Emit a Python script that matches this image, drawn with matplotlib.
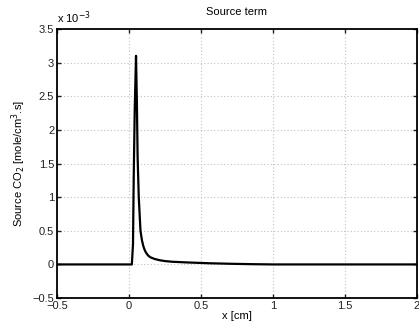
import numpy as np
import matplotlib
matplotlib.use("Agg")
import matplotlib.pyplot as plt

plt.rcParams['font.family'] = ['Liberation Sans', 'DejaVu Sans']

# source term (units of 1e-3 mole/cm^3.s)
x_cm = [-0.5, 0.0, 0.02, 0.028, 0.033, 0.04, 0.049, 0.055, 0.06, 0.068,
        0.08, 0.09, 0.1, 0.11, 0.12, 0.134, 0.15, 0.18, 0.215, 0.25,
        0.3, 0.4, 0.55, 0.7, 0.85, 1.0, 2.0]
source_e3 = [0.0, 0.0, 0.0, 0.3, 1.3, 2.3, 3.1, 2.4, 1.6, 1.0,
             0.5, 0.36, 0.27, 0.21, 0.17, 0.13, 0.105, 0.08, 0.062, 0.05,
             0.04, 0.03, 0.018, 0.01, 0.004, 0.0, 0.0]

xticks = [-0.5, 0, 0.5, 1, 1.5, 2]
xtick_labels = ['\u22120.5', '0', '0.5', '1', '1.5', '2']
yticks = [-0.5, 0, 0.5, 1, 1.5, 2, 2.5, 3, 3.5]
ytick_labels = ['\u22120.5', '0', '0.5', '1', '1.5', '2', '2.5', '3', '3.5']

fig = plt.figure(figsize=(4.19, 3.29), dpi=100)
ax = fig.add_axes([0.136, 0.094, 0.859, 0.818])

ax.plot(x_cm, np.array(source_e3) * 1e-3, color='black', lw=1.6)

ax.set_xlim(-0.5, 2)
ax.set_ylim(-0.5e-3, 3.5e-3)
ax.set_xticks(xticks)
ax.set_xticklabels(xtick_labels)
ax.set_yticks(np.array(yticks) * 1e-3)
ax.set_yticklabels(ytick_labels)
ax.tick_params(direction='in', labelsize=8, length=3, width=1, pad=2,
               top=True, right=True, colors='#222222')
ax.grid(True, linestyle=(0, (1, 2)), color='#c0c0c0', lw=0.8)
for s in ax.spines.values():
    s.set_linewidth(1.3)

ax.set_title('Source term', fontsize=8, pad=10)
ax.set_xlabel('x [cm]', fontsize=8, labelpad=0)
ax.set_ylabel('Source CO$_2$ [mole/cm$^3$.s]', fontsize=8, labelpad=3)
ax.text(0.0, 1.01, 'x 10$^{-3}$', transform=ax.transAxes, fontsize=8,
        ha='left', va='bottom')

fig.savefig('out.png', dpi=100)
